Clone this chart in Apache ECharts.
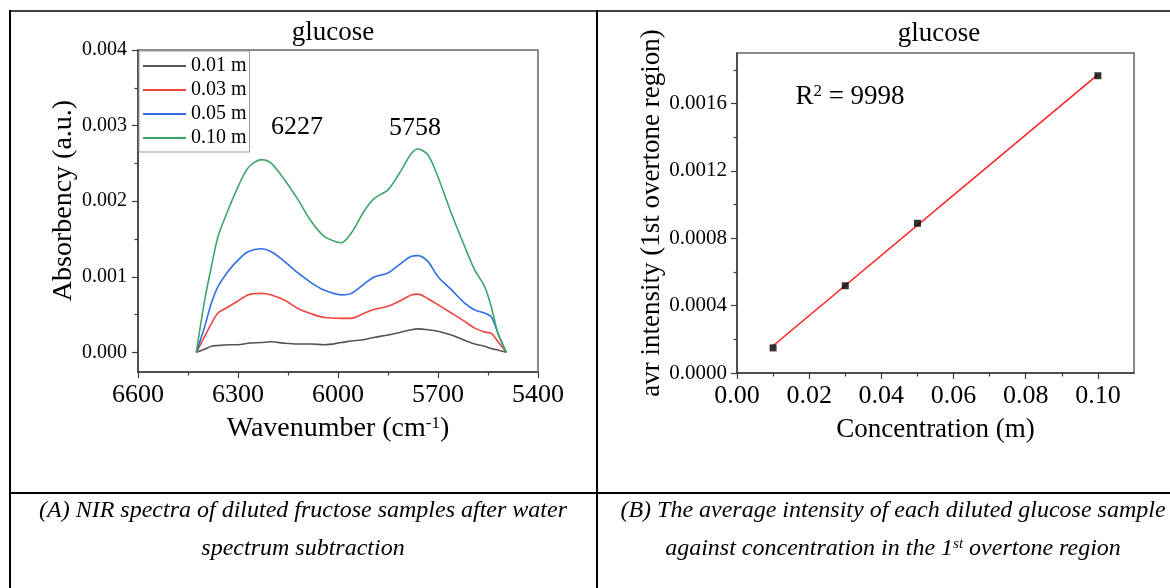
<!DOCTYPE html>
<html>
<head>
<meta charset="utf-8">
<script src="https://cdn.jsdelivr.net/npm/echarts@6/dist/echarts.min.js"></script>
<style>
html,body{margin:0;padding:0;background:#fff;}
#chart{width:1170px;height:588px;}
</style>
</head>
<body>
<div id="chart"></div>
<script>
// ---------- Panel A data ----------
const wavenumbers = [6425, 6400, 6380, 6360, 6330, 6300, 6270, 6230, 6200, 6160, 6120, 6080, 6040, 5990, 5960, 5920, 5890, 5850, 5810, 5780, 5760, 5730, 5700, 5660, 5620, 5590, 5560, 5540, 5520, 5495];
const abs001 = [0, 0.00004, 0.00008, 0.00009, 0.00010, 0.00010, 0.00012, 0.00013, 0.00014, 0.00012, 0.00011, 0.00011, 0.00010, 0.00013, 0.00015, 0.00017, 0.00020, 0.00023, 0.00027, 0.00030, 0.00031, 0.00030, 0.00028, 0.00023, 0.00016, 0.00011, 0.00008, 0.00005, 0.00003, 0];
const abs003 = [0, 0.00021, 0.00038, 0.00052, 0.00060, 0.00068, 0.00076, 0.00078, 0.00076, 0.00069, 0.00058, 0.00051, 0.00046, 0.00045, 0.00045, 0.00052, 0.00057, 0.00061, 0.00069, 0.00076, 0.00077, 0.00071, 0.00063, 0.00052, 0.00041, 0.00032, 0.00027, 0.00025, 0.00014, 0];
const abs005 = [0, 0.00034, 0.00065, 0.00087, 0.00107, 0.00122, 0.00133, 0.00137, 0.00133, 0.00120, 0.00105, 0.00092, 0.00082, 0.00076, 0.00078, 0.00091, 0.00100, 0.00105, 0.00118, 0.00127, 0.00128, 0.00120, 0.00100, 0.00083, 0.00065, 0.00056, 0.00052, 0.00047, 0.00025, 0];
const abs010 = [0, 0.00069, 0.00113, 0.00153, 0.00188, 0.00219, 0.00244, 0.00255, 0.00250, 0.00228, 0.00202, 0.00173, 0.00153, 0.00145, 0.00158, 0.00188, 0.00204, 0.00215, 0.00241, 0.00263, 0.00269, 0.00261, 0.00232, 0.00184, 0.00140, 0.00109, 0.00087, 0.00060, 0.00025, 0];
const spectraNames = ['0.01 m', '0.03 m', '0.05 m', '0.10 m'];
const absTicks = [0, 0.001, 0.002, 0.003, 0.004];
const absMinorTicks = [0.0005, 0.0015, 0.0025, 0.0035];
const peakLabels = ['6227', '5758'];

// ---------- Panel B data ----------
const concentrations = [0.01, 0.03, 0.05, 0.10];
const avgIntensity = [0.000149, 0.000518, 0.000889, 0.001765];
const fitConc = [0.01, 0.10];
const fitIntensity = [0.000162, 0.001772];
const intensityTicks = [0, 0.0004, 0.0008, 0.0012, 0.0016];
const intensityMinorTicks = [0.0002, 0.0006, 0.0010, 0.0014, 0.0018];
const concTicks = [0, 0.02, 0.04, 0.06, 0.08, 0.10];
const concMinorTicks = [0.01, 0.03, 0.05, 0.07, 0.09];
const r2Text = '9998';

const FONT = '"Liberation Serif", "Times New Roman", serif';
const AX = '#3c3c3c';
const colors = ['#555555', '#f0453f', '#2f6fe2', '#3ea568'];

const spectra = [abs001, abs003, abs005, abs010];

const chart = echarts.init(document.getElementById('chart'), null, {renderer: 'canvas'});

const axisNameStyle = (size, extra) => Object.assign({
  fontFamily: FONT, fontSize: size, color: '#000',
  rich: { sup: { fontFamily: FONT, fontSize: 17, color: '#000', verticalAlign: 'top' } }
}, extra || {});

const option = {
  animation: false,
  backgroundColor: '#fff',
  grid: [
    {left: 138, top: 50, width: 400, height: 322, show: true, borderColor: '#666', borderWidth: 1.5, backgroundColor: 'transparent'},
    {left: 737, top: 53, width: 397, height: 320, show: true, borderColor: '#666', borderWidth: 1.5, backgroundColor: 'transparent'}
  ],
  legend: {
    orient: 'vertical', left: 139, top: 51,
    data: spectraNames,
    selectedMode: false,
    icon: 'rect',
    itemWidth: 43, itemHeight: 1.8, itemGap: 4,
    padding: [5, 3, 4, 4],
    borderColor: '#9a9a9a', borderWidth: 1, backgroundColor: '#fff',
    textStyle: {fontFamily: FONT, fontSize: 20, color: '#000'}
  },
  xAxis: [
    {
      gridIndex: 0, type: 'value', position: 'bottom', min: 5400, max: 6600, interval: 300, inverse: true,
      axisLine: {show: true, onZero: false, lineStyle: {color: AX, width: 1.5}},
      axisTick: {show: true, inside: false, length: 6, lineStyle: {color: AX, width: 1.2}},
      minorTick: {show: true, splitNumber: 2, length: 3.5, lineStyle: {color: AX, width: 1.2}},
      splitLine: {show: false},
      axisLabel: {fontFamily: FONT, fontSize: 26, color: '#000', margin: 10, formatter: v => String(v)},
      name: 'Wavenumber (cm{sup|-1})', nameLocation: 'middle', nameGap: 43,
      nameTextStyle: axisNameStyle(28)
    },
    {
      gridIndex: 1, type: 'value', position: 'bottom', min: 0, max: 0.11,
      axisLine: {show: true, onZero: false, lineStyle: {color: AX, width: 1.5}},
      axisTick: {show: true, inside: false, length: 6, customValues: concTicks, lineStyle: {color: AX, width: 1.2}},
      splitLine: {show: false},
      axisLabel: {fontFamily: FONT, fontSize: 26, color: '#000', margin: 10, customValues: concTicks,
        formatter: v => v.toFixed(2)},
      name: 'Concentration (m)', nameLocation: 'middle', nameGap: 43,
      nameTextStyle: axisNameStyle(27)
    },
    {
      gridIndex: 1, type: 'value', position: 'bottom', min: 0, max: 0.11,
      axisLine: {show: false},
      axisTick: {show: true, inside: false, length: 3.5, customValues: concMinorTicks, lineStyle: {color: AX, width: 1.2}},
      axisLabel: {show: false},
      splitLine: {show: false}
    }
  ],
  yAxis: [
    {
      gridIndex: 0, type: 'value', position: 'left', min: -0.00026, max: 0.004,
      axisLine: {show: true, onZero: false, lineStyle: {color: AX, width: 1.5}},
      axisTick: {show: true, inside: false, length: 6, customValues: absTicks, lineStyle: {color: AX, width: 1.2}},
      splitLine: {show: false},
      axisLabel: {fontFamily: FONT, fontSize: 20, color: '#000', margin: 11, customValues: absTicks,
        formatter: v => v.toFixed(3)},
      name: 'Absorbency (a.u.)', nameLocation: 'middle', nameGap: 56,
      nameTextStyle: axisNameStyle(28, {padding: [0, 0, 0, 21]})
    },
    {
      gridIndex: 0, type: 'value', position: 'left', min: -0.00026, max: 0.004,
      axisLine: {show: false},
      axisTick: {show: true, inside: false, length: 3.5, customValues: absMinorTicks, lineStyle: {color: AX, width: 1.2}},
      axisLabel: {show: false},
      splitLine: {show: false}
    },
    {
      gridIndex: 1, type: 'value', position: 'left', min: 0, max: 0.0019,
      axisLine: {show: true, onZero: false, lineStyle: {color: AX, width: 1.5}},
      axisTick: {show: true, inside: false, length: 6, customValues: intensityTicks, lineStyle: {color: AX, width: 1.2}},
      splitLine: {show: false},
      axisLabel: {fontFamily: FONT, fontSize: 21, color: '#000', margin: 10, customValues: intensityTicks,
        formatter: v => v.toFixed(4)},
      name: 'avr intensity (1st overtone region)', nameLocation: 'middle', nameGap: 69,
      nameTextStyle: axisNameStyle(27)
    },
    {
      gridIndex: 1, type: 'value', position: 'left', min: 0, max: 0.0019,
      axisLine: {show: false},
      axisTick: {show: true, inside: false, length: 3.5, customValues: intensityMinorTicks, lineStyle: {color: AX, width: 1.2}},
      axisLabel: {show: false},
      splitLine: {show: false}
    }
  ],
  series: [
    ...spectra.map((arr, k) => ({
      name: spectraNames[k], type: 'line', xAxisIndex: 0, yAxisIndex: 0,
      data: wavenumbers.map((w, i) => [w, arr[i]]),
      smooth: 0.3, symbol: 'none', showSymbol: false,
      lineStyle: {color: colors[k], width: 1.6}, itemStyle: {color: colors[k]},
      z: 3 + k
    })),
    {
      name: 'fit', type: 'line', xAxisIndex: 1, yAxisIndex: 2,
      data: fitConc.map((c, i) => [c, fitIntensity[i]]),
      symbol: 'none', lineStyle: {color: '#ff1f1f', width: 1.5}, z: 3
    },
    {
      name: 'avg', type: 'scatter', xAxisIndex: 1, yAxisIndex: 2,
      data: concentrations.map((c, i) => [c, avgIntensity[i]]),
      symbol: 'rect', symbolSize: 7, itemStyle: {color: '#000'}, z: 5
    }
  ],
  graphic: [
    // table frame
    {type: 'line', shape: {x1: 9, y1: 11, x2: 1170, y2: 11}, style: {stroke: '#000', lineWidth: 1.5}},
    {type: 'line', shape: {x1: 10, y1: 10, x2: 10, y2: 588}, style: {stroke: '#000', lineWidth: 2}},
    {type: 'line', shape: {x1: 597, y1: 10, x2: 597, y2: 588}, style: {stroke: '#000', lineWidth: 2}},
    {type: 'line', shape: {x1: 9, y1: 493, x2: 1170, y2: 493}, style: {stroke: '#000', lineWidth: 2}},
    // titles
    {type: 'text', x: 333, y: 33, style: {text: 'glucose', font: '27px ' + FONT, fill: '#000', align: 'center', verticalAlign: 'middle'}},
    {type: 'text', x: 939, y: 34, style: {text: 'glucose', font: '27px ' + FONT, fill: '#000', align: 'center', verticalAlign: 'middle'}},
    // peak labels
    {type: 'text', x: 297, y: 127, style: {text: peakLabels[0], font: '26px ' + FONT, fill: '#000', align: 'center', verticalAlign: 'middle'}},
    {type: 'text', x: 415, y: 128, style: {text: peakLabels[1], font: '26px ' + FONT, fill: '#000', align: 'center', verticalAlign: 'middle'}},
    // R^2
    {type: 'text', x: 850, y: 97, style: {text: 'R{sup|2} = ' + r2Text, font: '27px ' + FONT, fill: '#000', align: 'center', verticalAlign: 'middle',
      rich: {sup: {font: '17px ' + FONT, fill: '#000', verticalAlign: 'top'}}}},
    // captions
    {type: 'text', x: 303, y: 511, style: {text: '(A) NIR spectra of diluted fructose samples after water', font: 'italic 24px ' + FONT, fill: '#000', align: 'center', verticalAlign: 'middle'}},
    {type: 'text', x: 303, y: 549, style: {text: 'spectrum subtraction', font: 'italic 24px ' + FONT, fill: '#000', align: 'center', verticalAlign: 'middle'}},
    {type: 'text', x: 893, y: 511, style: {text: '(B) The average intensity of each diluted glucose sample', font: 'italic 24px ' + FONT, fill: '#000', align: 'center', verticalAlign: 'middle'}},
    {type: 'text', x: 893, y: 549, style: {text: 'against concentration in the 1{sup|st} overtone region', font: 'italic 24px ' + FONT, fill: '#000', align: 'center', verticalAlign: 'middle',
      rich: {sup: {font: 'italic 15px ' + FONT, fill: '#000', verticalAlign: 'top'}}}}
  ]
};

chart.setOption(option);
</script>
</body>
</html>
